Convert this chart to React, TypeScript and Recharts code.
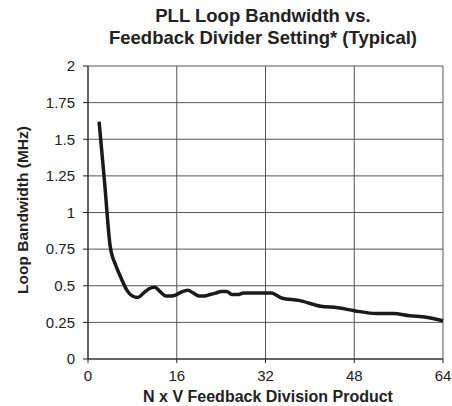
import { LineChart, Line, XAxis, YAxis, CartesianGrid } from 'recharts';

// N x V product and loop bandwidth (MHz)
const divisionProduct = [2, 3, 4, 5, 6, 7, 8, 9, 10, 11, 12, 13, 14, 15, 16, 17, 18, 19, 20, 21, 22, 23, 24, 25, 26, 27, 28, 30, 33, 35, 38, 42, 45, 48, 52, 55, 58, 61, 63, 64];
const bandwidthMHz = [1.62, 1.2, 0.77, 0.64, 0.55, 0.47, 0.43, 0.42, 0.45, 0.48, 0.49, 0.46, 0.43, 0.43, 0.44, 0.46, 0.47, 0.45, 0.43, 0.43, 0.44, 0.45, 0.46, 0.46, 0.44, 0.44, 0.45, 0.45, 0.45, 0.415, 0.4, 0.36, 0.35, 0.33, 0.31, 0.31, 0.295, 0.285, 0.27, 0.26];
const xTicks = [0, 16, 32, 48, 64];
const yTicks = [0, 0.25, 0.5, 0.75, 1, 1.25, 1.5, 1.75, 2];

const data = divisionProduct.map((n, i) => ({ n, bw: bandwidthMHz[i] }));

const FONT = '"Liberation Sans", Arial, Helvetica, sans-serif';

export default function App() {
    return (
        <div style={{ position: 'absolute', left: 0, top: 0, width: 452, height: 406, background: '#fff', fontFamily: FONT, color: '#222' }}>
            <div style={{ position: 'absolute', top: 5, left: 0, width: 526, textAlign: 'center', fontWeight: 700, fontSize: 18.5, lineHeight: '22px' }}>
                PLL Loop Bandwidth vs.<br />Feedback Divider Setting* (Typical)
            </div>
            <LineChart width={452} height={406} data={data} margin={{ top: 66, right: 9, bottom: 17, left: 28 }}>
                <CartesianGrid stroke="#555" strokeWidth={1} />
                <XAxis
                    dataKey="n"
                    type="number"
                    domain={[0, 64]}
                    ticks={xTicks}
                    tickSize={4}
                    tickMargin={7}
                    stroke="#222"
                    tick={{ fill: '#222', fontSize: 15, fontFamily: FONT }}
                />
                <YAxis
                    type="number"
                    domain={[0, 2]}
                    ticks={yTicks}
                    width={60}
                    tickSize={5}
                    tickMargin={8}
                    stroke="#222"
                    tick={{ fill: '#222', fontSize: 15, fontFamily: FONT }}
                />
                <Line
                    dataKey="bw"
                    type="monotone"
                    stroke="#1a1a1a"
                    strokeWidth={3.5}
                    dot={false}
                    isAnimationActive={false}
                />
            </LineChart>
            <div style={{ position: 'absolute', top: 388, left: 0, width: 536, textAlign: 'center', fontWeight: 700, fontSize: 16, lineHeight: '18px' }}>
                N x V Feedback Division Product
            </div>
            <div style={{ position: 'absolute', left: 23, top: 210, width: 0, height: 0 }}>
                <div style={{ position: 'absolute', transform: 'translate(-50%, -50%) rotate(-90deg)', whiteSpace: 'nowrap', fontWeight: 700, fontSize: 15.5 }}>
                    Loop Bandwidth (MHz)
                </div>
            </div>
        </div>
    );
}
